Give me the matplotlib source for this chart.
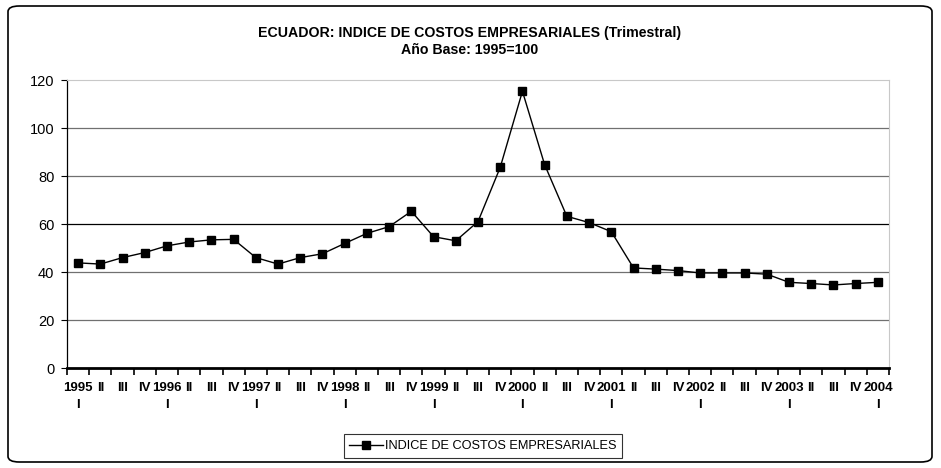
import numpy as np
import matplotlib
matplotlib.use('Agg')
import matplotlib.pyplot as plt
from matplotlib.patches import FancyBboxPatch
from matplotlib.ticker import FixedLocator

plt.rcParams['font.family'] = ['Liberation Sans', 'DejaVu Sans']

# Quarterly index, 1995 I .. 2004 I
years = list(range(1995, 2005))
quarters = ['I', 'II', 'III', 'IV']
values = [43.8, 43.3, 46.0, 48.1, 50.9, 52.5, 53.4, 53.6, 46.0, 43.3,
          46.0, 47.6, 51.9, 56.1, 58.9, 65.3, 54.7, 53.0, 61.0, 83.6,
          115.3, 84.7, 63.2, 60.6, 56.8, 41.7, 41.2, 40.6, 39.6, 39.6,
          39.6, 39.1, 35.7, 35.2, 34.6, 35.2, 35.7]
labels = []
for y in years:
    for q in quarters:
        labels.append(f'{y}\n{q}' if q == 'I' else q)
labels = labels[:len(values)]
series_name = 'INDICE DE COSTOS EMPRESARIALES'

fig = plt.figure(figsize=(9.41, 4.68), dpi=100)
ax = fig.add_axes([67 / 941, 1 - 368 / 468, 822 / 941, 288 / 468])

x = np.arange(len(values))
ax.plot(x, values, color='black', lw=1, marker='s', ms=6,
        mfc='black', mec='black', label=series_name, zorder=3)

ax.set_xlim(-0.5, len(values) - 0.5)
ax.set_ylim(0, 120)
ax.set_yticks(range(0, 121, 20))
for v in range(20, 101, 20):
    ax.axhline(v, color='#000000' if v == 60 else '#707070', lw=0.9, zorder=1)

ax.set_xticks(x)
ax.set_xticklabels(labels, fontsize=9.5, fontweight='bold')
ax.tick_params(axis='x', which='major', length=0, pad=10)
ax.xaxis.set_minor_locator(FixedLocator(np.arange(-0.5, len(values), 1)))
ax.tick_params(axis='x', which='minor', length=5, width=1.2, direction='out')
for t in ax.get_xticklabels():
    t.set_linespacing(1.55)
ax.tick_params(axis='y', labelsize=10.5, length=4, width=0.8, pad=5)

ax.spines['left'].set_linewidth(0.9)
ax.spines['bottom'].set_linewidth(2)
ax.spines['top'].set_color('#c8c8c8')
ax.spines['right'].set_color('#c8c8c8')

fig.text(470 / 941, 1 - 33 / 468, 'ECUADOR: INDICE DE COSTOS EMPRESARIALES (Trimestral)',
         ha='center', va='center', fontsize=10.2, fontweight='bold')
fig.text(470 / 941, 1 - 50 / 468, 'Año Base: 1995=100',
         ha='center', va='center', fontsize=10.2, fontweight='bold')

leg = fig.legend(loc='center', bbox_to_anchor=(483 / 941, 1 - 446 / 468),
                 fontsize=9.2, frameon=True, fancybox=False, handlelength=2.6,
                 borderpad=0.45, handletextpad=0.2, borderaxespad=0)
leg.get_frame().set_edgecolor('black')
leg.get_frame().set_linewidth(0.8)

border = FancyBboxPatch((8 / 941, 6 / 468), 924 / 941, 456 / 468,
                        boxstyle='round,pad=0,rounding_size=0.012',
                        transform=fig.transFigure, fill=False,
                        edgecolor='black', lw=1.2)
fig.patches.append(border)

fig.savefig('out.png', dpi=100)
